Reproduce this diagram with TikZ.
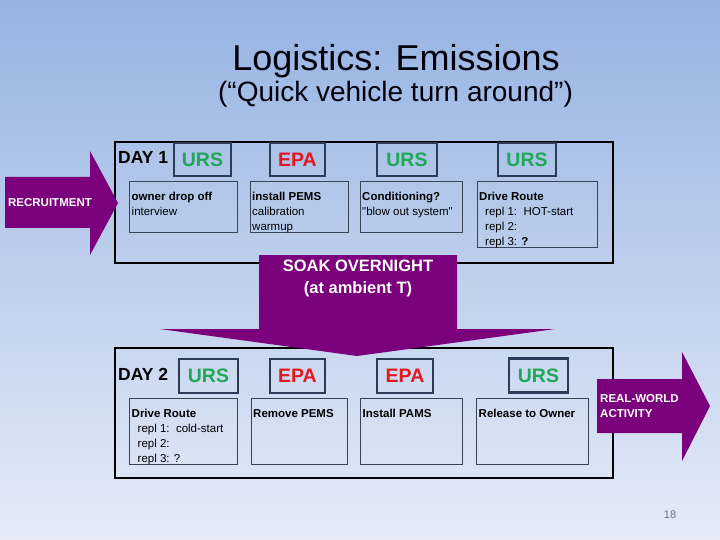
\documentclass[tikz,border=0pt]{standalone}
\usepackage{fontspec}
\setmainfont{Liberation Sans}
\newfontfamily\rawfont{Liberation Sans}
\definecolor{bgtop}{RGB}{150,179,226}
\definecolor{bgbot}{RGB}{229,235,247}
\definecolor{arrowpurple}{RGB}{122,0,124}
\definecolor{ursgreen}{RGB}{30,168,88}
\definecolor{epared}{RGB}{228,22,32}
\definecolor{tagborder}{RGB}{44,60,88}
\definecolor{taskborder}{RGB}{58,68,88}
\definecolor{pagegray}{RGB}{110,116,128}
\begin{document}
\begin{tikzpicture}[x=1pt,y=-1pt,
  outerbox/.style={draw=black,line width=1.8pt},
  tagbox/.style={draw=tagborder,line width=2.8pt,minimum height=33pt,inner sep=0pt,
    font=\fontsize{19.5}{19.5}\selectfont\bfseries},
  urs/.style={tagbox,text=ursgreen},
  epa/.style={tagbox,text=epared},
  taskbox/.style={draw=taskborder,line width=1.1pt,anchor=north west,inner sep=0pt},
  tasktext/.style={anchor=north west,inner sep=0pt,align=left,
    font=\fontsize{11.5}{15}\selectfont},
  daylabel/.style={anchor=base west,inner sep=0pt,font=\fontsize{17.5}{18}\selectfont\bfseries},
  purplearrow/.style={fill=arrowpurple},
  arrowlabel/.style={text=white,inner sep=0pt,font=\fontsize{11.5}{15}\selectfont\bfseries}
]
\useasboundingbox (0,0) rectangle (720,540);
% background
\shade[top color=bgtop,bottom color=bgbot] (0,0) rectangle (720,540);

% titles
\node[anchor=base,inner sep=0pt,font=\fontsize{36}{36}\selectfont,text=black!95!blue] (title) at (396,71) {Logistics: Emissions};
\node[anchor=base,inner sep=0pt,font=\fontsize{28}{28}\selectfont,text=black!95!blue] (subtitle) at (395.5,102) {(“Quick vehicle turn around”)};

% day boxes
\node[outerbox,anchor=north west,minimum width=498pt,minimum height=121pt,inner sep=0pt] (day1) at (114,141) {};
\node[outerbox,anchor=north west,minimum width=498pt,minimum height=130pt,inner sep=0pt] (day2) at (114,347) {};

\node[daylabel] (d1lab) at (118,164) {DAY 1};
\node[daylabel] (d2lab) at (118,380) {DAY 2};

% tags day 1
\node[urs,minimum width=57pt] (u11) at (202.5,159.5) {URS};
\node[epa,minimum width=55pt] (e12) at (297.5,159.5) {EPA};
\node[urs,minimum width=60pt] (u13) at (407,159.5) {URS};
\node[urs,minimum width=58pt] (u14) at (527,159.5) {URS};
% tags day 2
\node[urs,minimum width=59pt,minimum height=34pt] (u21) at (208.5,376) {URS};
\node[epa,minimum width=55pt,minimum height=34pt] (e22) at (297.5,376) {EPA};
\node[epa,minimum width=56pt,minimum height=34pt] (e23) at (405,376) {EPA};
\node[urs,minimum width=59pt,minimum height=34pt] (u24) at (538.5,375.5) {URS};

% task boxes day 1
\node[taskbox,minimum width=108pt,minimum height=51pt] (t11) at (129,181) {};
\node[taskbox,minimum width=98pt,minimum height=51pt] (t12) at (250,181) {};
\node[taskbox,minimum width=102pt,minimum height=51pt] (t13) at (360,181) {};
\node[taskbox,minimum width=120pt,minimum height=66pt] (t14) at (477,181) {};
% task boxes day 2
\node[taskbox,minimum width=108pt,minimum height=66pt] (t21) at (129,398) {};
\node[taskbox,minimum width=96pt,minimum height=66pt] (t22) at (251,398) {};
\node[taskbox,minimum width=102pt,minimum height=66pt] (t23) at (360,398) {};
\node[taskbox,minimum width=112pt,minimum height=66pt] (t24) at (476,398) {};

% task texts day 1
\node[tasktext] (x11) at ([shift={(2.5pt,-11pt)}]t11.north west) {\textbf{owner drop off}\\interview};
\node[tasktext] (x12) at ([shift={(2pt,-11pt)}]t12.north west) {\textbf{install PEMS}\\calibration\\warmup};
\node[tasktext] (x13) at ([shift={(2pt,-11pt)}]t13.north west) {\textbf{Conditioning?}\\{\rawfont"}blow out system{\rawfont"}};
\node[tasktext] (x14) at ([shift={(2pt,-11pt)}]t14.north west) {\textbf{Drive Route}\\\hspace*{6pt}repl 1:\ \ HOT-start\\\hspace*{6pt}repl 2:\\\hspace*{6pt}repl 3: \textbf{?}};
% task texts day 2
\node[tasktext] (x21) at ([shift={(2.5pt,-11pt)}]t21.north west) {\textbf{Drive Route}\\\hspace*{6pt}repl 1:\ \ cold-start\\\hspace*{6pt}repl 2:\\\hspace*{6pt}repl 3: ?};
\node[tasktext] (x22) at ([shift={(2pt,-11pt)}]t22.north west) {\textbf{Remove PEMS}};
\node[tasktext] (x23) at ([shift={(2.5pt,-11pt)}]t23.north west) {\textbf{Install PAMS}};
\node[tasktext] (x24) at ([shift={(2.5pt,-11pt)}]t24.north west) {\textbf{Release to Owner}};

% recruitment arrow
\fill[purplearrow] (5,177) -- (90,177) -- (90,151) -- (118,203) -- (90,255) -- (90,228) -- (5,228) -- cycle;
\node[arrowlabel] (recr) at (50,203) {RECRUITMENT};

% soak arrow
\fill[purplearrow] (259,255) -- (457,255) -- (457,329) -- (555,329) -- (357,356) -- (160,329) -- (259,329) -- cycle;
\node[arrowlabel,align=center,font=\fontsize{16.5}{22}\selectfont\bfseries] (soak) at (358,278) {SOAK OVERNIGHT\\(at ambient T)};

% real-world arrow
\fill[purplearrow] (597,379) -- (682,379) -- (682,352) -- (710,406) -- (682,461) -- (682,433) -- (597,433) -- cycle;
\node[arrowlabel,align=left,anchor=west] (rw) at (600,406.5) {REAL-WORLD\\ACTIVITY};

% page number
\node[text=pagegray,inner sep=0pt,font=\fontsize{11}{11}\selectfont] (pg) at (670,515) {18};
\end{tikzpicture}
\end{document}
